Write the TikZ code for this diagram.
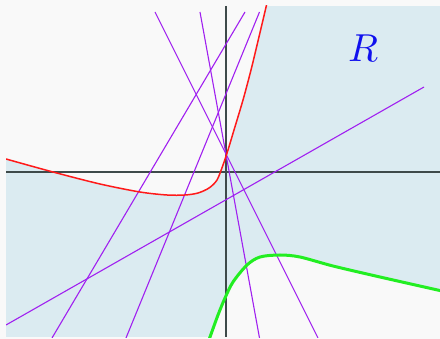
\documentclass[tikz,border=0pt]{standalone}
\usepackage{tikz}
\definecolor{bgc}{HTML}{F9F9F9}
\definecolor{regc}{HTML}{DBEBF1}
\definecolor{axc}{HTML}{3E4A4A}
\definecolor{linec}{HTML}{A020F0}
\definecolor{redc}{HTML}{FF1A1A}
\definecolor{greenc}{HTML}{22EE22}
\definecolor{labc}{HTML}{1010EE}
\tikzset{
  axis/.style={draw=axc, line width=1.1pt},
  tline/.style={draw=linec, line width=1.1pt},
  redcurve/.style={draw=redc, line width=1.5pt},
  greencurve/.style={draw=greenc, line width=3pt},
}
\begin{document}
\begin{tikzpicture}[x=1pt,y=-1pt]
\useasboundingbox (0,0) rectangle (440,339);
\fill[bgc] (0,0) rectangle (440,339);
\begin{scope}
\clip (6,6) rectangle (440,337.5);
\fill[regc] (6,6) rectangle (440,337.5);
% white region above red curve
\fill[bgc] plot[smooth] coordinates {(6,159) (53,172) (100,184) (140,192) (167,195) (185,195) (198,193) (209,188) (217,180) (223,165) (228,150) (234,130) (243,100) (251,70) (258,41) (267,3)} -- (267,0) -- (0,0) -- (0,159) -- cycle;
% white region below green curve
\fill[bgc] plot[smooth] coordinates {(208,342) (210,337) (218,315) (225,298) (233,282) (247,265) (260,257) (280,255) (300,257) (333,266) (380,277) (442,291)} -- (442,342) -- cycle;
% axes
\coordinate (xl) at (6,172);
\coordinate (xr) at (440,172);
\coordinate (yt) at (226,6);
\coordinate (yb) at (226,337.5);
\draw[axis] (xl) -- (xr);
\draw[axis] (yt) -- (yb);
% lines
\coordinate (a1) at (155,12); \coordinate (b1) at (318,338);
\coordinate (a2) at (200,12); \coordinate (b2) at (259.5,338);
\coordinate (a3) at (245,12); \coordinate (b3) at (52,338);
\coordinate (a4) at (259.5,12); \coordinate (b4) at (126,338);
\coordinate (a5) at (6,325); \coordinate (b5) at (424,87);
\draw[tline] (a1) -- (b1);
\draw[tline] (a2) -- (b2);
\draw[tline] (a3) -- (b3);
\draw[tline] (a4) -- (b4);
\draw[tline] (a5) -- (b5);
% curves
\draw[redcurve] plot[smooth] coordinates {(6,159) (53,172) (100,184) (140,192) (167,195) (185,195) (198,193) (209,188) (217,180) (223,165) (228,150) (234,130) (243,100) (251,70) (258,41) (267,3)};
\draw[greencurve] plot[smooth] coordinates {(208,342) (210,337) (218,315) (225,298) (233,282) (247,265) (260,257) (280,255) (300,257) (333,266) (380,277) (442,291)};
\end{scope}
\node[text=labc, scale=3.9, inner sep=0pt] (R) at (363,48) {$R$};
\end{tikzpicture}
\end{document}
